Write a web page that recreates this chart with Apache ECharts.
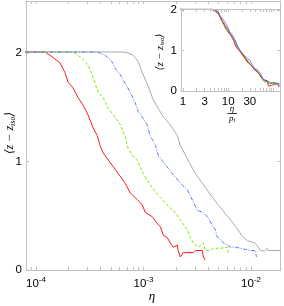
<!DOCTYPE html>
<html><head><meta charset="utf-8">
<script src="https://cdn.jsdelivr.net/npm/echarts@6/dist/echarts.min.js"></script>
<style>html,body{margin:0;padding:0;background:#fff}#c{width:284px;height:306px}</style>
</head><body><div id="c"></div>
<script>
// ---- data (eta, <z - z_iso>) ----
const etaRed = [2.4e-5,1.21e-4,1.44e-4,1.67e-4,1.86e-4,1.99e-4,2.21e-4,2.46e-4,2.74e-4,3.05e-4,3.40e-4,3.71e-4,3.94e-4,4.21e-4,4.90e-4,5.81e-4,6.75e-4,7.52e-4,8.73e-4,9.73e-4,1.04e-3,1.21e-3,1.34e-3,1.43e-3,1.53e-3,1.66e-3,1.77e-3,1.89e-3,2.06e-3,2.10e-3,2.20e-3,2.34e-3,2.90e-3,3.03e-3,3.52e-3,3.60e-3,3.76e-3];
const zRed   = [2.01,2.01,1.96,1.91,1.82,1.73,1.68,1.59,1.52,1.43,1.31,1.24,1.15,1.08,0.99,0.89,0.80,0.71,0.65,0.60,0.53,0.49,0.43,0.40,0.32,0.30,0.25,0.21,0.23,0.18,0.12,0.16,0.16,0.18,0.18,0.12,0.09];
const etaGreen = [2.4e-5,2.21e-4,2.46e-4,2.74e-4,3.05e-4,3.33e-4,3.55e-4,3.78e-4,4.21e-4,4.69e-4,5.44e-4,6.07e-4,6.75e-4,7.19e-4,7.85e-4,8.73e-4,9.93e-4,1.11e-3,1.29e-3,1.43e-3,1.66e-3,1.97e-3,2.20e-3,2.55e-3,2.72e-3,2.90e-3,3.24e-3,3.60e-3,3.76e-3,4.19e-3,4.47e-3,5.19e-3,6.03e-3,6.15e-3];
const zGreen   = [2.01,2.01,1.98,1.94,1.89,1.80,1.72,1.64,1.59,1.49,1.41,1.34,1.23,1.12,1.06,1.01,0.89,0.81,0.72,0.67,0.60,0.53,0.46,0.37,0.30,0.25,0.21,0.25,0.18,0.18,0.20,0.20,0.21,0.16];
const etaBlue = [2.4e-5,3.71e-4,4.40e-4,5.10e-4,5.44e-4,6.07e-4,6.75e-4,7.52e-4,8.38e-4,8.93e-4,9.73e-4,1.08e-3,1.15e-3,1.29e-3,1.37e-3,1.49e-3,1.66e-3,1.89e-3,2.20e-3,2.55e-3,2.90e-3,3.16e-3,3.60e-3,4.01e-3,4.37e-3,4.66e-3,4.86e-3,5.19e-3,5.54e-3,6.03e-3,6.43e-3,7.16e-3,7.96e-3,9.86e-3,1.10e-2,1.12e-2];
const zBlue   = [2.01,2.01,1.98,1.92,1.86,1.80,1.72,1.64,1.54,1.46,1.41,1.34,1.24,1.15,1.06,1.01,0.95,0.88,0.80,0.74,0.63,0.55,0.53,0.48,0.41,0.37,0.30,0.28,0.25,0.23,0.21,0.21,0.20,0.18,0.18,0.12];
const etaGray = [2.4e-5,6.47e-4,7.19e-4,8.02e-4,8.93e-4,9.93e-4,1.11e-3,1.23e-3,1.37e-3,1.53e-3,1.77e-3,2.06e-3,2.20e-3,2.39e-3,2.67e-3,3.03e-3,3.52e-3,4.09e-3,4.86e-3,5.77e-3,6.71e-3,7.46e-3,8.32e-3,9.25e-3,1.08e-2,1.15e-2,1.22e-2,1.33e-2,1.42e-2,1.45e-2,1.90e-2];
const zGray   = [2.01,2.01,2.00,1.98,1.92,1.80,1.69,1.57,1.49,1.41,1.34,1.24,1.15,1.08,0.99,0.89,0.80,0.71,0.61,0.52,0.44,0.38,0.31,0.27,0.25,0.22,0.18,0.175,0.20,0.18,0.18];
// p_t used to rescale eta in the inset: red, green, blue, gray
const ptValues = [2.8e-5, 4.9e-5, 8.3e-5, 1.45e-4];

// ---- ticks ----
const mainTicks = [1e-4, 1e-3, 1e-2];
const mainTickExp = ['-4', '-3', '-2'];
const insetTicks = [1, 3, 10, 30];
const insetTickLabels = ['1', '3', '10', '30'];
const yTicks = [0, 1, 2];

const L = Math.log10;
const FRAME = '#c2c2c2';
const FONT = '"Liberation Sans", Arial, sans-serif';

function minorsBetween(lo, hi) {
  const out = [];
  for (let e = Math.floor(L(lo)); e <= Math.ceil(L(hi)); e++) {
    for (let k = 1; k <= 9; k++) {
      const v = k * Math.pow(10, e);
      if (v >= lo && v <= hi) out.push(L(v));
    }
  }
  return out;
}

const mainMin = -4.093, mainMax = -1.726;
const insMin = L(0.9), insMax = L(140);
const mainMinor = minorsBetween(Math.pow(10, mainMin), Math.pow(10, mainMax));
const insMinor = minorsBetween(Math.pow(10, insMin), Math.pow(10, insMax));

function ax(grid, pos, min, max, ticks, label) {
  return {
    type: 'value', gridIndex: grid, position: pos, min: min, max: max,
    axisLine: { show: true, onZero: false, lineStyle: { color: FRAME, width: 1 } },
    axisTick: { show: true, inside: true, length: 3, customValues: ticks, lineStyle: { color: FRAME } },
    axisLabel: label || { show: false },
    splitLine: { show: false }
  };
}

const mainLogTicks = mainTicks.map(L);
const insLogTicks = insetTicks.map(L);
function idx(arr, v) { return arr.findIndex(a => Math.abs(a - v) < 1e-6); }

const mainXLabel = {
  show: true, customValues: mainLogTicks, margin: 6, color: '#000',
  formatter: v => { const i = idx(mainLogTicks, v); return i < 0 ? '' : '{b|10}{s|' + mainTickExp[i] + '}'; },
  rich: {
    b: { fontSize: 11.5, fontFamily: FONT, color: '#000', verticalAlign: 'middle' },
    s: { fontSize: 8, fontFamily: FONT, color: '#000', padding: [0, 0, 7, 0], verticalAlign: 'middle' }
  }
};
const insXLabel = {
  show: true, customValues: insLogTicks, margin: 5, color: '#000', fontSize: 11.5, fontFamily: FONT,
  formatter: v => { const i = idx(insLogTicks, v); return i < 0 ? '' : insetTickLabels[i]; }
};
const yLabel = {
  show: true, customValues: yTicks, margin: 4, color: '#000', fontSize: 11.5, fontFamily: FONT,
  formatter: v => String(v)
};

const colors = ['#ff1a1a', '#7ee600', '#5a78ff', '#aaaaaa'];
const insetColors = ['#ff1a1a', '#7ee600', '#5a78ff', '#333333'];
const dashes = ['solid', [3, 2], [4, 1.5, 1, 1.5], 'solid'];
const sets = [[etaRed, zRed], [etaGreen, zGreen], [etaBlue, zBlue], [etaGray, zGray]];

const series = [];
[0, 3, 1, 2].forEach(k => {
  const [e, z] = sets[k];
  series.push({
    type: 'line', xAxisIndex: 0, yAxisIndex: 0, showSymbol: false, symbol: 'none', animation: false,
    clip: true, z: 2,
    lineStyle: { color: colors[k], width: 1, type: dashes[k] },
    data: e.map((v, i) => [L(v), z[i]])
  });
});
[3, 1, 0, 2].forEach(k => {
  const [e, z] = sets[k];
  series.push({
    type: 'line', xAxisIndex: 2, yAxisIndex: 2, showSymbol: false, symbol: 'none', animation: false,
    clip: true, z: 5,
    lineStyle: { color: insetColors[k], width: 0.9 },
    data: e.map((v, i) => [L(v / ptValues[k]), z[i]])
  });
});

const zFont = 'italic 12px "Liberation Serif", "DejaVu Serif", serif';
const option = {
  backgroundColor: '#fff',
  animation: false,
  grid: [
    { left: 26, right: 3.5, top: 1, bottom: 36, show: false },
    { left: 181, right: 4, top: 9, bottom: 215, show: true, backgroundColor: '#fff', borderWidth: 0, z: 3 }
  ],
  xAxis: [
    ax(0, 'bottom', mainMin, mainMax, mainLogTicks.concat(mainMinor), mainXLabel),
    ax(0, 'top', mainMin, mainMax, mainLogTicks.concat(mainMinor)),
    Object.assign(ax(1, 'bottom', insMin, insMax, insLogTicks.concat(insMinor), insXLabel), { z: 6 }),
    Object.assign(ax(1, 'top', insMin, insMax, insLogTicks.concat(insMinor)), { z: 6 })
  ],
  yAxis: [
    ax(0, 'left', 0, 2.48, yTicks, yLabel),
    ax(0, 'right', 0, 2.48, yTicks),
    Object.assign(ax(1, 'left', 0, 2.02, yTicks, yLabel), { z: 6 }),
    Object.assign(ax(1, 'right', 0, 2.02, yTicks), { z: 6 })
  ],
  series: series,
  graphic: [
    { type: 'text', x: 152, y: 297, z: 10, style: { text: 'η', font: 'italic 13px "Liberation Serif", "DejaVu Serif", serif', fill: '#000', align: 'center', verticalAlign: 'middle' } },
    { type: 'text', x: 10, y: 133, rotation: Math.PI / 2, z: 10,
      style: { text: '⟨z − z{s|iso}⟩', font: zFont, fill: '#000', align: 'center', verticalAlign: 'middle',
        rich: { s: { font: 'italic 8px "Liberation Serif", "DejaVu Serif", serif', fill: '#000', padding: [6, 0, 0, 0], verticalAlign: 'middle' } } } },
    { type: 'text', x: 160, y: 52, rotation: Math.PI / 2, z: 10,
      style: { text: '⟨z − z{s|iso}⟩', font: 'italic 10.5px "Liberation Serif", "DejaVu Serif", serif', fill: '#000', align: 'center', verticalAlign: 'middle',
        rich: { s: { font: 'italic 7px "Liberation Serif", "DejaVu Serif", serif', fill: '#000', padding: [5, 0, 0, 0], verticalAlign: 'middle' } } } },
    { type: 'text', x: 232, y: 109, z: 10, style: { text: 'η', font: 'italic 9px "Liberation Serif", "DejaVu Serif", serif', fill: '#000', align: 'center', verticalAlign: 'middle' } },
    { type: 'line', z: 10, shape: { x1: 227.5, y1: 113.5, x2: 237, y2: 113.5 }, style: { stroke: '#000', lineWidth: 0.8 } },
    { type: 'text', x: 232, y: 118.5, z: 10,
      style: { text: 'p{s|t}', font: 'italic 9px "Liberation Serif", "DejaVu Serif", serif', fill: '#000', align: 'center', verticalAlign: 'middle',
        rich: { s: { font: 'italic 6px "Liberation Serif", "DejaVu Serif", serif', fill: '#000', padding: [4, 0, 0, 0], verticalAlign: 'middle' } } } }
  ]
};
const chart = echarts.init(document.getElementById('c'), null, { renderer: 'canvas' });
chart.setOption(option);
</script>
</body></html>
